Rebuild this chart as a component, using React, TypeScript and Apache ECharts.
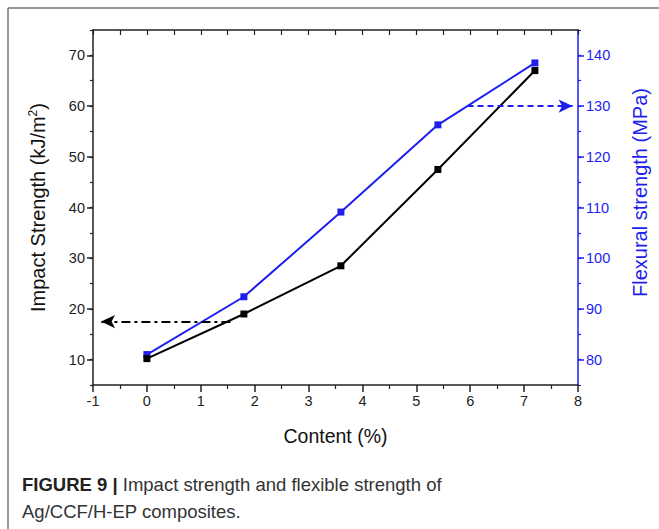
import React, { useEffect, useRef } from "react";
import * as echarts from "echarts";

const contentX = [0, 1.8, 3.6, 5.4, 7.2];
const impactStrength = [10.2, 19, 28.5, 47.5, 67];
const flexuralStrength = [81, 92.4, 109.1, 126.3, 138.5];
const leftTicks = [10, 20, 30, 40, 50, 60, 70];
const rightTicks = [80, 90, 100, 110, 120, 130, 140];
const impactArrow = [[1.55, 17.5], [-0.85, 17.5]];
const flexArrow = [[5.95, 130], [7.9, 130]];

const BLUE = "#1e1ef0";
const FONT = "Liberation Sans, Arial, sans-serif";

export default function App() {
  const ref = useRef<HTMLDivElement>(null);
  useEffect(() => {
    document.body.style.margin = "0";
    const chart = echarts.init(ref.current!, null, { renderer: "svg" });
    const lbl = { fontFamily: FONT, fontSize: 14.5 };
    chart.setOption({
      animation: false,
      backgroundColor: "#fff",
      grid: { left: 93, right: 81, top: 30, bottom: 144 },
      xAxis: [
        {
          type: "value", min: -1, max: 8, interval: 1, position: "bottom",
          axisLine: { onZero: false, lineStyle: { color: "#222", width: 1.5 } },
          axisTick: { inside: false, length: 7, lineStyle: { color: "#222", width: 1.5 } },
          minorTick: { show: true, splitNumber: 2, length: 4, lineStyle: { color: "#222", width: 1.2 } },
          axisLabel: { ...lbl, color: "#222", margin: 8 },
          splitLine: { show: false },
          name: "Content (%)", nameLocation: "middle", nameGap: 41,
          nameTextStyle: { fontFamily: FONT, fontSize: 19.5, color: "#111" },
        },
        {
          type: "value", min: -1, max: 8, interval: 0.5, position: "top",
          axisLine: { onZero: false, lineStyle: { color: "#222", width: 1.5 } },
          axisTick: { inside: true, length: 5, lineStyle: { color: "#222", width: 1.2 } },
          axisLabel: { show: false }, splitLine: { show: false },
        },
      ],
      yAxis: [
        {
          type: "value", min: 5, max: 75, position: "left",
          axisLine: { show: true, onZero: false, lineStyle: { color: "#222", width: 1.5 } },
          axisTick: { show: true, customValues: leftTicks, length: 6, lineStyle: { color: "#222", width: 1.5 } },
          axisLabel: { ...lbl, color: "#222", customValues: leftTicks, margin: 8 },
          splitLine: { show: false },
          name: "Impact Strength (kJ/m{s|2})", nameLocation: "middle", nameGap: 45, nameRotate: 90,
          nameTextStyle: {
            fontFamily: FONT, fontSize: 20, color: "#111",
            rich: { s: { fontFamily: FONT, fontSize: 12, color: "#111", verticalAlign: "top", padding: [0, 0, 9, 0] } },
          },
        },
        {
          type: "value", min: 75, max: 145, position: "right",
          axisLine: { show: true, onZero: false, lineStyle: { color: BLUE, width: 1.5 } },
          axisTick: { show: true, customValues: rightTicks, length: 6, lineStyle: { color: BLUE, width: 1.5 } },
          axisLabel: { ...lbl, color: BLUE, customValues: rightTicks, margin: 8 },
          splitLine: { show: false },
          name: "Flexural strength (MPa)", nameLocation: "middle", nameGap: 52, nameRotate: 90,
          nameTextStyle: { fontFamily: FONT, fontSize: 20, color: BLUE, padding: [0, 0, 0, 30] },
        },
        {
          type: "value", min: 5, max: 75, interval: 5, position: "left",
          axisLine: { show: false, onZero: false },
          axisTick: { show: true, length: 3, lineStyle: { color: "#222", width: 1.2 } },
          axisLabel: { show: false }, splitLine: { show: false },
        },
        {
          type: "value", min: 75, max: 145, interval: 5, position: "right",
          axisLine: { show: false, onZero: false },
          axisTick: { show: true, length: 3, lineStyle: { color: BLUE, width: 1.2 } },
          axisLabel: { show: false }, splitLine: { show: false },
        },
      ],
      series: [
        {
          type: "line", xAxisIndex: 0, yAxisIndex: 0,
          data: contentX.map((x, i) => [x, impactStrength[i]]),
          symbol: "rect", symbolSize: 7,
          lineStyle: { color: "#000", width: 2 },
          itemStyle: { color: "#000" },
          z: 3,
          markLine: {
            silent: true, symbol: ["none", "arrow"], symbolSize: [10, 14],
            label: { show: false },
            lineStyle: { color: "#000", width: 2.2, type: [9, 4, 3, 4] },
            data: [[{ coord: impactArrow[0] }, { coord: impactArrow[1] }]],
          },
        },
        {
          type: "line", xAxisIndex: 0, yAxisIndex: 1,
          data: contentX.map((x, i) => [x, flexuralStrength[i]]),
          symbol: "rect", symbolSize: 7,
          lineStyle: { color: BLUE, width: 2 },
          itemStyle: { color: BLUE },
          z: 2,
          markLine: {
            silent: true, symbol: ["none", "arrow"], symbolSize: [10, 14],
            label: { show: false },
            lineStyle: { color: BLUE, width: 2, type: [6, 4] },
            data: [[{ coord: flexArrow[0] }, { coord: flexArrow[1] }]],
          },
        },
      ],
      graphic: [
        { type: "line", shape: { x1: 8, y1: 8, x2: 659, y2: 8 }, style: { stroke: "#777", lineWidth: 1.5 } },
        { type: "line", shape: { x1: 8, y1: 8, x2: 8, y2: 529 }, style: { stroke: "#777", lineWidth: 1.5 } },
        {
          type: "text", left: 22, top: 471,
          style: {
            text: "{b|FIGURE 9 |} Impact strength and flexible strength of\nAg/CCF/H-EP composites.",
            fontFamily: FONT,
            fontSize: 18.5, lineHeight: 27, fill: "#333",
            rich: {
              b: { fontFamily: FONT, fontSize: 18.5, fontWeight: "bold", fill: "#222" },
            },
          },
        },
      ],
    });
    return () => chart.dispose();
  }, []);
  return <div ref={ref} style={{ width: 659, height: 529 }} />;
}
